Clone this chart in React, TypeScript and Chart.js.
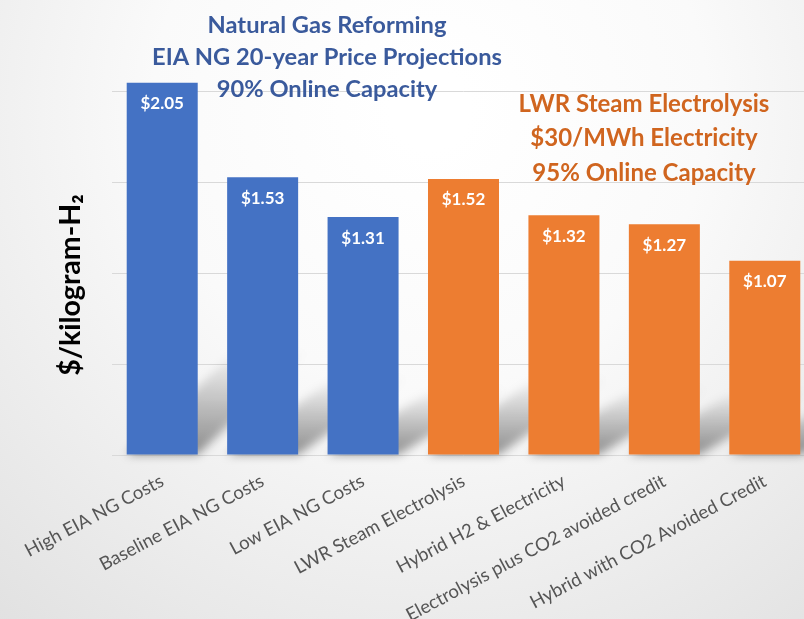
import React, { useEffect, useRef } from "react";
import { Chart, registerables } from "chart.js";

Chart.register(...registerables);

const categories = [
  "High EIA NG Costs",
  "Baseline EIA NG Costs",
  "Low EIA NG Costs",
  "LWR Steam Electrolysis",
  "Hybrid H2 & Electricity",
  "Electrolysis plus CO2 avoided credit",
  "Hybrid with CO2 Avoided Credit",
];
const costValues = [2.05, 1.53, 1.31, 1.52, 1.32, 1.27, 1.07];
const groupOfBar = ["ng", "ng", "ng", "lwr", "lwr", "lwr", "lwr"];
const groupColors: Record<string, string> = { ng: "#4472C4", lwr: "#ED7D31" };
const yTickValues = [0, 0.5, 1.0, 1.5, 2.0];
const yAxisTitle = "$/kilogram-H\u2082";
const ngNote = ["Natural Gas Reforming", "EIA NG 20-year Price Projections", "90% Online Capacity"];
const lwrNote = ["LWR Steam Electrolysis", "$30/MWh Electricity", "95% Online Capacity"];

const FONT = "Lato, 'Open Sans', sans-serif";

const backgroundPlugin = {
  id: "bg",
  beforeDraw(chart: any) {
    const { ctx, width, height } = chart;
    ctx.save();
    const g = ctx.createRadialGradient(430, 110, 40, 430, 110, 720);
    g.addColorStop(0, "#ffffff");
    g.addColorStop(0.35, "#fafafa");
    g.addColorStop(1, "#dedede");
    ctx.fillStyle = g;
    ctx.fillRect(0, 0, width, height);
    ctx.restore();
  },
};

const shadowPlugin = {
  id: "barShadows",
  beforeDatasetsDraw(chart: any) {
    const { ctx } = chart;
    const meta = chart.getDatasetMeta(0);
    ctx.save();
    ctx.filter = "blur(5px)";
    meta.data.forEach((bar: any) => {
      const props = bar.getProps(["x", "y", "base", "width"], true);
      const x0 = props.x - props.width / 2;
      const x1 = props.x + props.width / 2;
      const base = props.base;
      const h = (base - props.y) * 0.28;
      const s = 110;
      const g = ctx.createLinearGradient(0, base, 0, base - h);
      g.addColorStop(0, "rgba(0,0,0,0.42)");
      g.addColorStop(1, "rgba(0,0,0,0)");
      ctx.fillStyle = g;
      ctx.beginPath();
      ctx.moveTo(x0, base);
      ctx.lineTo(x1, base);
      ctx.lineTo(x1 + s, base - h);
      ctx.lineTo(x0 + s, base - h);
      ctx.closePath();
      ctx.fill();
    });
    ctx.restore();
  },
};

const textPlugin = {
  id: "texts",
  afterDatasetsDraw(chart: any) {
    const { ctx } = chart;
    const meta = chart.getDatasetMeta(0);
    ctx.save();
    // value labels
    ctx.fillStyle = "#ffffff";
    ctx.font = `bold 17px ${FONT}`;
    ctx.textAlign = "center";
    ctx.textBaseline = "middle";
    meta.data.forEach((bar: any, i: number) => {
      ctx.fillText("$" + costValues[i].toFixed(2), bar.x, bar.y + 21);
    });
    // notes
    ctx.font = `bold 23.7px ${FONT}`;
    ctx.fillStyle = "#3A5A9C";
    ngNote.forEach((t, i) => ctx.fillText(t, 327, 25 + i * 32));
    ctx.font = `bold 24px ${FONT}`;
    ctx.fillStyle = "#D0651F";
    lwrNote.forEach((t, i) => ctx.fillText(t, 644, 104 + i * 34.5));
    // y title
    ctx.translate(71, 285);
    ctx.rotate(-Math.PI / 2);
    ctx.fillStyle = "#000000";
    ctx.font = `bold 28.5px ${FONT}`;
    ctx.fillText(yAxisTitle, 0, 0);
    ctx.restore();
  },
};

export default function App() {
  const ref = useRef<HTMLCanvasElement>(null);
  useEffect(() => {
    if (!ref.current) return;
    const chart = new Chart(ref.current, {
      type: "bar",
      data: {
        labels: categories,
        datasets: [
          {
            data: costValues,
            backgroundColor: groupOfBar.map((g) => groupColors[g]),
            borderWidth: 0,
            categoryPercentage: 1,
            barPercentage: 0.707,
          },
        ],
      },
      options: {
        animation: false,
        responsive: false,
        devicePixelRatio: 1,
        layout: { padding: { left: 112, right: 15, top: 1, bottom: 0 } },
        plugins: { legend: { display: false }, tooltip: { enabled: false } },
        scales: {
          x: {
            grid: { display: false },
            border: { display: false },
            ticks: {
              maxRotation: 28,
              minRotation: 28,
              color: "#555555",
              font: { family: FONT, size: 18.5 },
              autoSkip: false,
              padding: 7,
            },
            afterFit: (scale: any) => {
              scale.height = 164;
            },
          },
          y: {
            min: 0,
            max: 2.5,
            afterBuildTicks: (scale: any) => {
              scale.ticks = yTickValues.map((v) => ({ value: v }));
            },
            grid: { color: "#d9d9d9", drawTicks: false, lineWidth: 1 },
            border: { display: false },
            ticks: { display: false },
          },
        },
      },
      plugins: [backgroundPlugin, shadowPlugin, textPlugin],
    });
    return () => chart.destroy();
  }, []);
  return (
    <div
      style={{
        position: "fixed",
        left: 0,
        top: 0,
        width: 804,
        height: 619,
        overflow: "hidden",
      }}
    >
      <canvas ref={ref} width={830} height={619} style={{ display: "block" }} />
    </div>
  );
}
